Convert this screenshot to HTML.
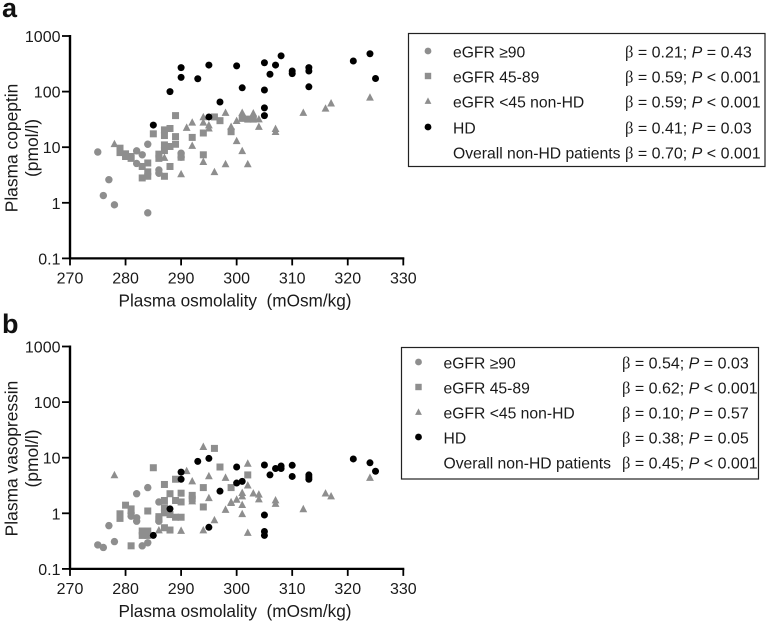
<!DOCTYPE html>
<html>
<head>
<meta charset="utf-8">
<style>
html,body{margin:0;padding:0;background:#fff;}
svg{display:block;font-family:"Liberation Sans",sans-serif;}
</style>
</head>
<body>
<svg id="fig" width="769" height="622" viewBox="0 0 769 622" xmlns="http://www.w3.org/2000/svg"></svg>
<script>
const xTicks = [270, 280, 290, 300, 310, 320, 330];
const yTicks = [1000, 100, 10, 1, 0.1];

const aCircleX = [275,277,276,278,284,282,283,282,284,286,286,290,290];
const aCircleY = [8.2,2.6,1.35,0.92,0.66,8.6,7.3,5.1,11.3,3.9,3.4,7.8,6.6];
const aSquareX = [279,279,280,280,281,281,283,284,284,283,284,285,286,286,287,287,288,289,289,287,287,288,289,288,287,290,292,294,294,296,297,299,301,302,303];
const aSquareY = [9.6,8,7.6,6.8,6.8,6.3,4.5,5.2,3.6,2.8,3,17.4,7.5,6.3,20.5,16.2,21.7,37,15.5,11,8.7,10.3,11.3,4.5,3,6.6,15,18,7.3,35,30,19,33,32,32];
const aTriangleX = [278,287,290,291,292,292,294,294,294,295,295,296,298,298,301,303,300,304,304,299,307,307,300,301,302,312,316,317,324];
const aTriangleY = [11.5,6.5,3.3,22.6,28,10.7,35,28,5.5,25,22,3.6,42,5,42,41,30,32,23.5,23.5,21.5,19,13,8.6,5,42,50,62,79];
const aHdX = [285,288,290,290,293,295,297,295,300,301,305,305,305,305,306,307,308,310,310,313,313,313,321,324,325];
const aHdY = [25,100,180,270,170,300,65,35,290,117,330,107,51,37,205,300,440,235,210,270,235,122,355,480,172];

const bCircleX = [275,276,277,278,282,284,281,281,282,282,283,284,286,286];
const bCircleY = [0.27,0.243,0.6,0.31,2.25,2.9,0.89,1.0,0.83,0.72,0.26,0.295,1.6,0.72];
const bSquareX = [285,280,279,279,281,281,284,283,283,284,284,287,289,288,290,287,289,290,287,287,286,286,288,289,290,287,288,292,292,294,294,296,297,299,302];
const bSquareY = [6.6,1.4,0.98,0.81,1.2,0.26,1.1,0.48,0.4,0.48,0.4,3.3,4.1,2.25,2.3,1.7,1.7,1.6,1.26,1.02,0.87,0.78,0.95,0.85,0.85,0.55,0.5,2.1,1.8,2.9,1.3,14.7,6.8,2.9,4.9];
const bTriangleX = [278,286,290,291,292,292,294,295,295,294,296,298,298,299,302,302,301,301,303,304,304,300,299,301,301,302,307,307,312,316,317,324];
const bTriangleY = [4.9,0.5,0.49,5.8,3.8,1.66,15.8,4.7,1.9,0.5,0.76,4.4,1.17,1.55,7.9,3.2,2.35,2.04,2.3,2.2,1.8,1.78,1.6,1.43,0.98,0.45,1.73,1.5,1.2,2.3,2.04,4.4];
const bHdX = [285,288,290,290,293,295,297,295,300,300,301,305,305,305,305,306,307,308,308,310,310,313,313,313,321,324,325];
const bHdY = [0.4,1.2,5.5,4.1,8.6,9.7,2.5,0.56,6.8,3.5,3.75,7.4,0.93,0.47,0.4,4.9,6.4,7.1,6.4,7.3,4.6,4.9,4.5,4.1,9.5,8.1,5.7];

const aLegendLabels = ['eGFR \u226590','eGFR 45-89','eGFR <45 non-HD','HD','Overall non-HD patients'];
const aBeta = ['0.21','0.59','0.59','0.41','0.70'];
const aP = ['= 0.43','< 0.001','< 0.001','= 0.03','< 0.001'];
const bBeta = ['0.54','0.62','0.10','0.38','0.45'];
const bP = ['= 0.03','< 0.001','= 0.57','= 0.05','< 0.001'];

const NS = 'http://www.w3.org/2000/svg';
const fig = document.getElementById('fig');
const GRAY = '#8e8e8e', BLACK = '#000';

function make(tag, attrs, parent, text) {
  const el = document.createElementNS(NS, tag);
  for (const k in attrs) el.setAttribute(k, attrs[k]);
  if (text !== undefined) el.textContent = text;
  (parent || fig).appendChild(el);
  return el;
}

function marker(kind, cx, cy, r, fill, parent) {
  if (kind === 'square') {
    return make('rect', {x: cx - r, y: cy - r, width: 2 * r, height: 2 * r, fill: fill}, parent);
  }
  if (kind === 'triangle') {
    return make('polygon', {points: (cx - r) + ',' + (cy + r * 0.85) + ' ' + (cx + r) + ',' + (cy + r * 0.85) + ' ' + cx + ',' + (cy - r * 1.05), fill: fill}, parent);
  }
  return make('circle', {cx: cx, cy: cy, r: r, fill: fill}, parent);
}

function drawPanel(cfg) {
  const xPos = v => 70 + (v - 270) * 5.555;
  const yPos = v => cfg.top + (3 - Math.log10(v)) * 55.6;
  const bottom = yPos(0.1);

  const g = make('g', {}, fig);
  
  

  const letter = make('text', {x: 2, y: cfg.letterY, 'font-size': 27, 'font-weight': 'bold', fill: '#111'}, g, cfg.id);
  
  

  const yAxis = make('line', {x1: 70, x2: 70, y1: cfg.top - 1, y2: bottom + 1, stroke: '#000', 'stroke-width': 2.4}, g);
  
  

  const xAxis = make('line', {x1: 69, x2: xPos(330) + 1, y1: bottom, y2: bottom, stroke: '#000', 'stroke-width': 2.2}, g);
  
  

  yTicks.forEach(t => {
    const y = yPos(t);
    const tick = make('line', {x1: 62, x2: 70, y1: y, y2: y, stroke: '#000', 'stroke-width': 1.8}, g);
    
    
    const label = make('text', {x: 60.5, y: y + 6, 'font-size': 16, 'text-anchor': 'end', fill: '#1a1a1a'}, g, String(t));
    
    
  });

  xTicks.forEach(t => {
    const x = xPos(t);
    const tick = make('line', {x1: x, x2: x, y1: bottom, y2: bottom + 7, stroke: '#000', 'stroke-width': 1.8}, g);
    
    
    const label = make('text', {x: x, y: bottom + 25, 'font-size': 16, 'text-anchor': 'middle', fill: '#1a1a1a'}, g, String(t));
    
    
  });

  const xTitle = make('text', {x: 235, y: bottom + 48, 'font-size': 17.2, 'text-anchor': 'middle', fill: '#1a1a1a'}, g, 'Plasma osmolality  (mOsm/kg)');
  
  
  xTitle.style.whiteSpace = 'pre';

  const midY = cfg.top + 112;
  const yTitle1 = make('text', {transform: 'translate(17.5,' + midY + ') rotate(-90)', 'font-size': 17.4, 'text-anchor': 'middle', fill: '#1a1a1a'}, g, cfg.yTitle);
  
  
  const yTitle2 = make('text', {transform: 'translate(38,' + midY + ') rotate(-90)', 'font-size': 17.4, 'text-anchor': 'middle', fill: '#1a1a1a'}, g, '(pmol/l)');
  
  

  cfg.series.forEach(s => {
    const sg = make('g', {}, g);
    
    
    s.xs.forEach((xv, i) => {
      const m = marker(s.kind, xPos(xv), yPos(s.ys[i]), s.r, s.fill, sg);
      
      
    });
  });

  const box = make('rect', {x: cfg.box[0], y: cfg.box[1], width: cfg.box[2], height: cfg.box[3], fill: '#fff', stroke: '#222', 'stroke-width': 1.2}, g);
  
  

  const kinds = ['circle', 'square', 'triangle', 'circle', null];
  const fills = [GRAY, GRAY, GRAY, BLACK, null];
  aLegendLabels.forEach((txt, i) => {
    const y = cfg.legendY[i];
    if (kinds[i]) {
      const lm = marker(kinds[i], cfg.markX, y - 1, kinds[i] === 'square' ? 3.2 : 3.4, fills[i], g);
      
      
    }
    const lab = make('text', {x: cfg.labelX, y: y + 5.5, 'font-size': cfg.fs, fill: '#1a1a1a'}, g, txt);
    
    

    const st = make('text', {x: cfg.betaX, y: y + 5.5, 'font-size': 16, fill: '#1a1a1a'}, g);
    
    
    st.style.whiteSpace = 'pre';
    make('tspan', {'font-family': '"Liberation Serif", serif', 'font-size': 16.5}, st, '\u03b2');
    make('tspan', {}, st, ' = ' + cfg.beta[i] + '; ');
    make('tspan', {'font-style': 'italic'}, st, 'P');
    make('tspan', {}, st, ' ' + cfg.p[i]);
  });
}

drawPanel({
  id: 'a', top: 36, letterY: 17, yTitle: 'Plasma copeptin',
  box: [408.5, 33.5, 356.5, 133], legendY: [52, 77, 102, 128, 153],
  markX: 428, labelX: 453, betaX: 625, fs: 15.7, beta: aBeta, p: aP,
  series: [
    {name: 'egfr-90', kind: 'circle', r: 3.7, fill: GRAY, xs: aCircleX, ys: aCircleY},
    {name: 'egfr-45-89', kind: 'square', r: 3.5, fill: GRAY, xs: aSquareX, ys: aSquareY},
    {name: 'egfr-below-45', kind: 'triangle', r: 3.9, fill: GRAY, xs: aTriangleX, ys: aTriangleY},
    {name: 'hd', kind: 'circle', r: 3.5, fill: BLACK, xs: aHdX, ys: aHdY}
  ]
});

drawPanel({
  id: 'b', top: 346.5, letterY: 333, yTitle: 'Plasma vasopressin',
  box: [401.5, 347.5, 357, 131.5], legendY: [363, 388, 413, 438, 463],
  markX: 418.5, labelX: 443.5, betaX: 622, fs: 15.7, beta: bBeta, p: bP,
  series: [
    {name: 'egfr-90', kind: 'circle', r: 3.7, fill: GRAY, xs: bCircleX, ys: bCircleY},
    {name: 'egfr-45-89', kind: 'square', r: 3.5, fill: GRAY, xs: bSquareX, ys: bSquareY},
    {name: 'egfr-below-45', kind: 'triangle', r: 3.9, fill: GRAY, xs: bTriangleX, ys: bTriangleY},
    {name: 'hd', kind: 'circle', r: 3.5, fill: BLACK, xs: bHdX, ys: bHdY}
  ]
});
</script>
</body>
</html>
